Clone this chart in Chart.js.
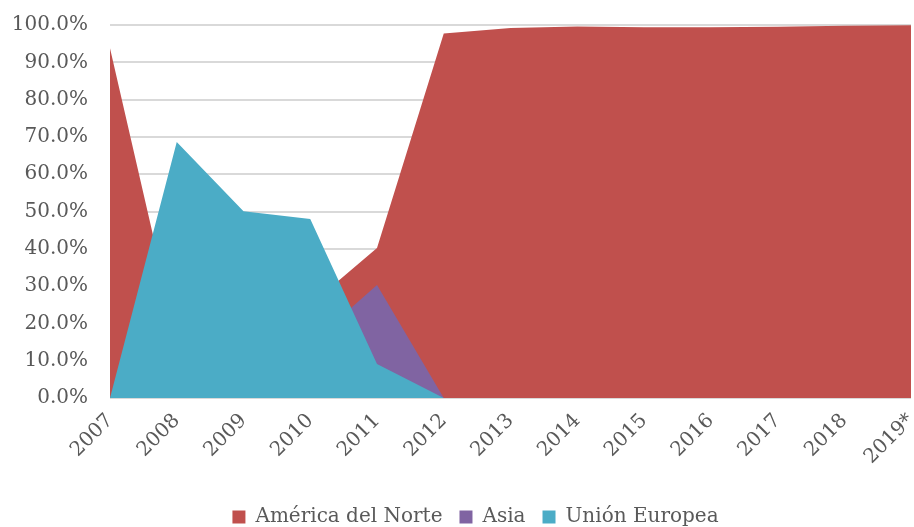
<!DOCTYPE html>
<html>
<head>
<meta charset="utf-8">
<script src="https://cdn.jsdelivr.net/npm/chart.js@4.4.1/dist/chart.umd.min.js"></script>
<style>
  html, body { margin: 0; padding: 0; background: #fff; }
  #wrap { width: 914px; height: 527px; }
</style>
</head>
<body>
<div id="wrap"><canvas id="areaChart"></canvas></div>
<script>
const years = ['2007', '2008', '2009', '2010', '2011', '2012', '2013', '2014', '2015', '2016', '2017', '2018', '2019*'];
const norteAmerica = [93.8, 16, 20, 25, 40.2, 97.7, 99.2, 99.6, 99.4, 99.4, 99.5, 99.8, 99.9];
const asia = [0, 0, 5, 14.5, 30.3, 0, 0, 0, 0, 0, 0, 0, 0];
const unionEuropea = [0, 68.6, 50.1, 48, 9.1, 0, 0, 0, 0, 0, 0, 0, 0];

const textColor = '#595959';
const font = { family: 'DejaVu Serif', size: 20 };

// nudge the legend right so its centre sits where the reference has it
const legendShift = {
    id: 'legendShift',
    beforeDraw(chart) {
        if (chart.legend) chart.legend.left = 40;
    }
};

const chart = new Chart(document.getElementById('areaChart'), {
    type: 'line',
    data: {
        labels: years,
        datasets: [
            {
                label: 'América del Norte',
                data: norteAmerica,
                backgroundColor: '#C0504D',
                borderColor: '#C0504D',
                fill: 'origin',
                order: 3
            },
            {
                label: 'Asia',
                data: asia,
                backgroundColor: '#8064A2',
                borderColor: '#8064A2',
                fill: 'origin',
                order: 2
            },
            {
                label: 'Unión Europea',
                data: unionEuropea,
                backgroundColor: '#4BACC6',
                borderColor: '#4BACC6',
                fill: 'origin',
                order: 1
            }
        ]
    },
    options: {
        responsive: true,
        maintainAspectRatio: false,
        animation: false,
        elements: {
            point: { radius: 0 },
            line: { borderWidth: 0, tension: 0 }
        },
        layout: { padding: { top: 25, right: 3, bottom: -10, left: 0 } },
        plugins: {
            tooltip: { enabled: false },
            legend: {
                position: 'bottom',
                labels: {
                    color: textColor,
                    font: font,
                    boxWidth: 13,
                    boxHeight: 13,
                    padding: 17,
                    sort: (a, b) => a.datasetIndex - b.datasetIndex
                }
            }
        },
        scales: {
            x: {
                grid: { display: false },
                border: { display: false },
                ticks: {
                    color: textColor,
                    font: font,
                    minRotation: 45,
                    maxRotation: 45,
                    padding: 3
                },
                afterFit: scale => {
                    scale.height = 92;
                    scale.paddingLeft = 0;
                    scale.paddingRight = 0;
                }
            },
            y: {
                min: 0,
                max: 100,
                grid: { color: '#d9d9d9', lineWidth: 2, drawTicks: false },
                border: { display: false },
                ticks: {
                    stepSize: 10,
                    color: textColor,
                    font: font,
                    padding: 22,
                    callback: v => v.toFixed(1) + '%'
                },
                afterFit: scale => {
                    scale.width = 110;
                    scale.paddingTop = 0;
                    scale.paddingBottom = 0;
                }
            }
        }
    },
    plugins: [legendShift]
});
</script>
</body>
</html>
